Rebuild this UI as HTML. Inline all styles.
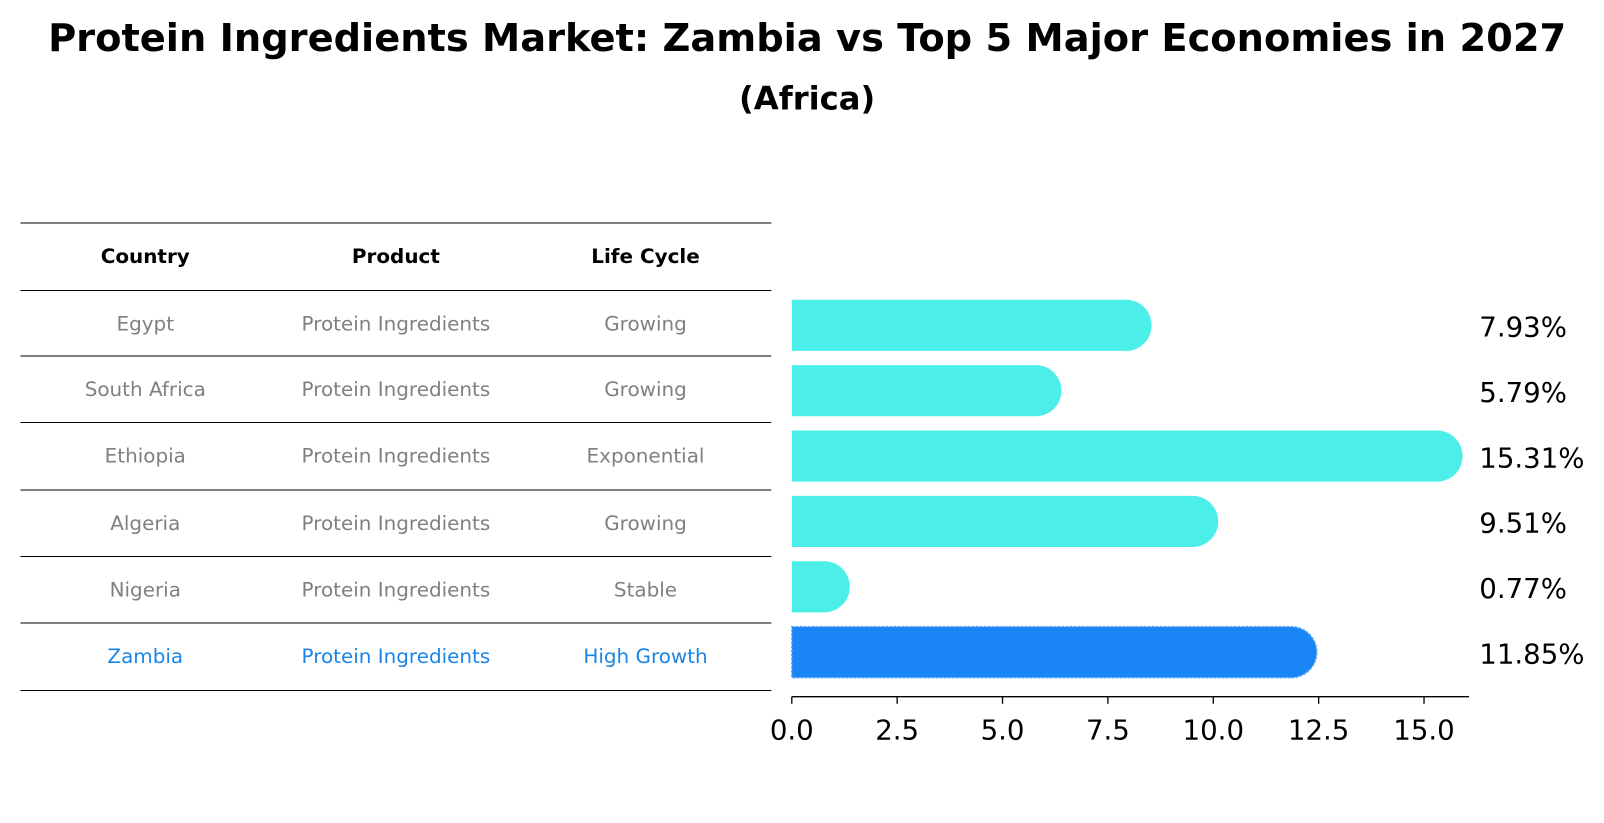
<!DOCTYPE html>
<html><head><meta charset="utf-8"><style>
body{margin:0;background:#fff;font-family:"DejaVu Sans","Liberation Sans",sans-serif;}
svg{display:block}
</style></head><body>
<svg width="1604" height="823" xmlns="http://www.w3.org/2000/svg">
<g transform="scale(1.023)">
<text x="789" y="50" text-anchor="middle" font-size="37.5" font-weight="bold">Protein Ingredients Market: Zambia vs Top 5 Major Economies in 2027</text>
<text x="789" y="107" text-anchor="middle" font-size="31.5" font-weight="bold">(Africa)</text>
<g id="table"></g>
<g id="bars"></g>
</g>
</svg>
<script>
const countries=["Egypt","South Africa","Ethiopia","Algeria","Nigeria","Zambia"];
const products=["Protein Ingredients","Protein Ingredients","Protein Ingredients","Protein Ingredients","Protein Ingredients","Protein Ingredients"];
const lifeCycles=["Growing","Growing","Exponential","Growing","Stable","High Growth"];
const values=[7.93,5.79,15.31,9.51,0.77,11.85];
const valueLabels=["7.93%","5.79%","15.31%","9.51%","0.77%","11.85%"];
const ticks=[0,2.5,5,7.5,10,12.5,15];
const NS="http://www.w3.org/2000/svg";
function mk(tag,attrs,parent,text){const e=document.createElementNS(NS,tag);for(const k in attrs)e.setAttribute(k,attrs[k]);if(text!==undefined)e.textContent=text;parent.appendChild(e);return e;}
const xS=v=>774+v*41.2;
const yC=i=>318+i*63.9;
const tbl=document.getElementById('table');
const lines=[218,284,348,413,479,544,609,675];
lines.forEach(y=>{const l=mk('line',{x1:20,x2:754,y1:y,y2:y,stroke:'#000','stroke-width':1},tbl);});
const colX=[142,387,631];
["Country","Product","Life Cycle"].forEach((h,j)=>{const t=mk('text',{x:colX[j],y:257,'text-anchor':'middle','font-size':19.5,'font-weight':'bold'},tbl,h);});
countries.forEach((c,i)=>{
 const col=i===countries.length-1?'#1a85e6':'#808080';
 const y=lines[i+1]+39;
 [c,products[i],lifeCycles[i]].forEach((v,j)=>{const t=mk('text',{x:colX[j],y:y,'text-anchor':'middle','font-size':19.5,fill:col},tbl,v);});
});
const g=document.getElementById('bars');
values.forEach((v,i)=>{
 const last=i===values.length-1;
 const col=last?'#1a85f5':'#4beee9';
 const x0=xS(0),x1=xS(v),cy=yC(i),r=25;
 const p=mk('path',{d:`M${x0},${cy-r} L${x1},${cy-r} A${r},${r} 0 0 1 ${x1},${cy+r} L${x0},${cy+r} Z`,fill:col},g);
 if(last){p.setAttribute('stroke','#5aa8f5');p.setAttribute('stroke-dasharray','2,2');p.setAttribute('stroke-width','1.5');}
 
 
 const t=mk('text',{x:1446,y:cy+11,'font-size':27},g,valueLabels[i]);
 
 
});
const ax=mk('line',{x1:774,x2:1436,y1:681,y2:681,stroke:'#000','stroke-width':1.3},g);


ticks.forEach(t=>{
 const tl=mk('line',{x1:xS(t),x2:xS(t),y1:681,y2:688,stroke:'#000','stroke-width':1.3},g);
 
 
 const tx=mk('text',{x:xS(t),y:723,'text-anchor':'middle','font-size':27},g,t.toFixed(1));
 
 
});
</script>
</body></html>
